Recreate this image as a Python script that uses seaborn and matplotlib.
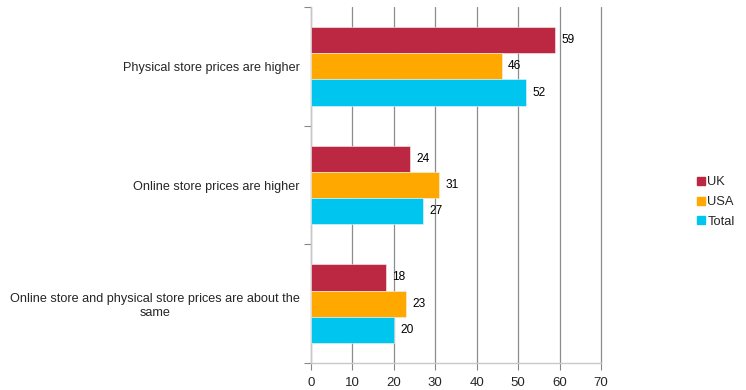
import matplotlib
matplotlib.use("Agg")
import matplotlib.pyplot as plt
from matplotlib.lines import Line2D
import seaborn as sns
import pandas as pd

categories = ["Physical store prices are higher",
              "Online store prices are higher",
              "Online store and physical store prices are about the\nsame"]
series = ["UK", "USA", "Total"]
uk = [59, 24, 18]
usa = [46, 31, 23]
total = [52, 27, 20]
xticks = [0, 10, 20, 30, 40, 50, 60, 70]
colors = ["#BC2842", "#FFA800", "#00C5EF"]

rows = []
for s, vals in zip(series, [uk, usa, total]):
    for c, v in zip(categories, vals):
        rows.append({"category": c, "series": s, "value": v})
df = pd.DataFrame(rows)

sns.set_theme(style="white")
plt.rcParams["font.family"] = ["Liberation Sans", "DejaVu Sans"]

fig = plt.figure(figsize=(7.46, 3.90), dpi=100)
ax = fig.add_axes([311/746, 1-363/390, (601-311)/746, (363-7)/390])

sns.barplot(data=df, y="category", x="value", hue="series", order=categories,
            hue_order=series, palette=colors, saturation=1, orient="h", width=0.665,
            ax=ax, legend=False, edgecolor="#f4f4f4", linewidth=0.4, zorder=3)

for cont in ax.containers:
    ax.bar_label(cont, fmt="%.0f", padding=4.5, fontsize=8.6, color="#000000")

ax.set_xlim(0, 70)
ax.set_xticks(xticks)
ax.set_xticklabels([str(t) for t in xticks], fontsize=9.5)
ax.set_ylim(2.5, -0.5)
ax.set_yticks([-0.5, 0.5, 1.5, 2.5])
ax.set_yticklabels([])
ax.set_yticks([0, 1, 2], minor=True)
ax.set_yticklabels(categories, minor=True, fontsize=9.1, ha="right",
                   multialignment="center")
ax.tick_params(axis="y", which="minor", length=0, pad=8)
ax.tick_params(axis="y", which="major", length=5, width=0.8, color="#888888",
               direction="out", left=True)
ax.tick_params(axis="x", which="major", length=5, width=0.8, color="#888888",
               direction="out", bottom=True, pad=5)
ax.set_xlabel("")
ax.set_ylabel("")

ax.grid(axis="x", color="#8c8c8c", linewidth=0.9, zorder=0)
ax.grid(axis="y", visible=False)
for gl in ax.xaxis.get_gridlines():
    gl.set_clip_on(False)
ax.set_axisbelow(True)
for side in ["top", "right"]:
    ax.spines[side].set_visible(False)
for side in ["left", "bottom"]:
    ax.spines[side].set_color("#c8c8c8")
    ax.spines[side].set_linewidth(1.0)

handles = [Line2D([0], [0], marker="s", linestyle="none", markersize=6,
                  markerfacecolor=c, markeredgecolor=c) for c in colors]
fig.legend(handles, series, loc="center left", bbox_to_anchor=(692/746, 1-202/390),
           frameon=False, fontsize=9.3, handlelength=0.6, handletextpad=0.2,
           labelspacing=0.6, borderaxespad=0)

fig.savefig("out.png", dpi=100)
